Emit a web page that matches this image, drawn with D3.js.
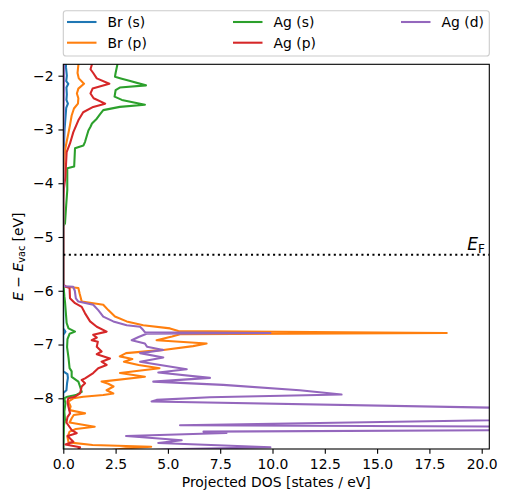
<!DOCTYPE html>
<html><head><meta charset="utf-8">
<script src="https://cdn.jsdelivr.net/npm/d3@7"></script>
<style>
body{margin:0;background:#fff;}
svg{display:block;font-family:"DejaVu Sans",sans-serif;}
</style>
</head><body>
<svg id="chart" width="507" height="502"></svg>
<script>
// ---------- data (energy in eV, projected DOS in states/eV) ----------
const seriesNames  = ["Br (s)", "Br (p)", "Ag (s)", "Ag (p)", "Ag (d)"];
const seriesColors = ["#1f77b4", "#ff7f0e", "#2ca02c", "#d62728", "#9467bd"];

const brS_E = [-1.70,-1.85,-2.00,-2.10,-2.15,-2.22,-2.35,-2.45,-2.52,-2.60,-2.80,-3.00,-3.30,-3.60,-6.70,-6.76,-6.82,-7.50,-7.55,-7.62,-7.72,-7.85,-7.90,-9.00];
const brS_D = [0.12,0.13,0.17,0.14,0.24,0.15,0.17,0.15,0.22,0.14,0.10,0.06,0.03,0.00,0.00,0.10,0.00,0.00,0.20,0.22,0.18,0.15,0.00,0.00];

const brP_E = [-1.70,-1.80,-1.95,-2.05,-2.15,-2.24,-2.33,-2.42,-2.52,-2.61,-2.74,-2.92,-3.08,-3.23,-3.39,-3.70,-4.00,-5.88,-5.92,-5.95,-6.05,-6.20,-6.26,-6.36,-6.48,-6.57,-6.64,-6.70,-6.75,-6.785,-6.81,-6.85,-6.92,-6.98,-7.03,-7.10,-7.16,-7.22,-7.27,-7.32,-7.38,-7.44,-7.53,-7.60,-7.69,-7.73,-7.78,-7.85,-7.91,-7.94,-7.97,-8.00,-8.06,-8.15,-8.22,-8.28,-8.31,-8.37,-8.45,-8.53,-8.57,-8.62,-8.72,-8.82,-8.87,-8.90,-8.93,-9.00];
const brP_D = [0.70,0.72,0.68,0.74,0.99,0.72,0.65,0.72,0.70,0.51,0.40,0.32,0.24,0.16,0.08,0.02,0.00,0.00,0.05,0.72,0.78,0.88,1.91,2.15,2.47,3.03,3.82,5.10,5.50,18.33,5.58,5.20,4.46,6.85,6.20,4.78,3.00,2.70,3.30,2.90,3.60,4.60,2.71,3.90,1.83,2.15,2.40,2.07,2.39,1.91,0.96,0.48,0.24,0.35,0.30,1.04,0.50,0.40,0.30,1.50,0.60,0.30,0.20,0.25,1.40,4.20,3.00,1.50];

const agS_E = [-1.70,-1.80,-1.95,-2.02,-2.05,-2.10,-2.18,-2.22,-2.27,-2.39,-2.45,-2.54,-2.58,-2.64,-2.72,-2.80,-2.89,-2.95,-3.02,-3.15,-3.23,-3.30,-3.35,-3.69,-3.72,-4.13,-4.40,-4.75,-4.80,-5.90,-5.95,-6.10,-6.20,-6.50,-6.60,-6.70,-6.76,-6.80,-6.90,-7.05,-7.25,-7.44,-7.50,-7.60,-7.69,-7.78,-7.88,-7.94,-7.97,-8.00,-8.10,-8.25,-8.40,-8.50,-9.00];
const agS_D = [2.60,2.58,2.50,2.47,2.75,3.20,3.95,2.70,2.50,2.45,2.80,3.90,2.70,1.91,1.75,1.60,1.37,1.30,1.20,1.10,1.04,0.96,0.56,0.52,0.19,0.19,0.14,0.08,0.00,0.00,0.02,0.05,0.08,0.14,0.16,0.25,0.56,0.30,0.20,0.18,0.25,0.30,0.40,0.40,0.72,0.80,0.88,0.60,0.20,0.05,0.10,0.05,0.08,0.03,0.00];

const agP_E = [-1.70,-1.80,-1.88,-1.95,-2.05,-2.15,-2.24,-2.33,-2.42,-2.52,-2.58,-2.68,-2.83,-3.05,-3.26,-3.42,-3.88,-4.10,-4.30,-5.88,-5.92,-5.95,-6.14,-6.23,-6.30,-6.42,-6.57,-6.67,-6.76,-6.82,-6.87,-6.92,-6.95,-7.04,-7.13,-7.18,-7.26,-7.32,-7.38,-7.44,-7.53,-7.63,-7.66,-7.72,-7.78,-7.91,-7.97,-8.00,-8.06,-8.15,-8.28,-8.35,-8.45,-8.59,-8.65,-8.70,-8.81,-8.86,-8.91,-9.00];
const agP_D = [1.38,1.36,1.30,1.43,1.60,2.20,1.40,1.30,1.45,2.00,1.43,0.95,0.72,0.48,0.32,0.16,0.10,0.03,0.00,0.00,0.10,0.30,0.32,0.56,0.88,1.04,1.28,1.60,2.07,1.43,1.60,1.36,1.65,1.60,1.83,1.60,2.23,1.83,2.07,1.67,1.43,1.04,0.88,1.04,0.88,0.80,0.56,0.24,0.20,0.24,0.32,0.20,0.15,0.40,0.64,0.20,0.48,0.10,0.80,0.60];

const agD_E = [-1.70,-2.20,-2.60,-3.00,-3.50,-5.88,-5.915,-5.925,-6.00,-6.14,-6.20,-6.26,-6.36,-6.48,-6.57,-6.64,-6.67,-6.73,-6.77,-6.785,-6.80,-6.86,-6.92,-6.98,-7.04,-7.10,-7.16,-7.24,-7.32,-7.46,-7.52,-7.62,-7.69,-7.75,-7.85,-7.93,-7.98,-8.03,-8.06,-8.22,-8.30,-8.36,-8.50,-8.55,-8.57,-8.62,-8.645,-8.70,-8.78,-8.83,-8.91,-8.95,-9.00];
const agD_D = [0.03,0.03,0.02,0.01,0.00,0.00,0.05,0.47,0.55,0.60,0.72,1.43,1.67,1.91,2.39,3.03,3.67,3.82,3.90,9.90,3.98,3.60,3.27,3.90,4.00,4.78,3.67,4.78,3.67,5.90,4.54,7.01,4.30,7.64,11.30,13.30,7.00,4.46,4.22,27.0,35.0,28.0,5.58,35.0,35.0,6.70,7.80,3.00,5.66,4.54,9.90,5.00,2.00];

const seriesE = [brS_E, brP_E, agS_E, agP_E, agD_E];
const seriesD = [brS_D, brP_D, agS_D, agP_D, agD_D];

const xTicks = [0, 2.5, 5, 7.5, 10, 12.5, 15, 17.5, 20];
const yTicks = [-8, -7, -6, -5, -4, -3, -2];
const fermiLevel = -5.33;
const xDomain = [0, 20.363];
const yDomain = [-8.943, -1.788];

// ---------- layout ----------
const L = 63.3, R = 489.3, T = 64.3, B = 449;
const fs = 13.9;
const svg = d3.select("#chart");
const x = d3.scaleLinear().domain(xDomain).range([L, R]);
const y = d3.scaleLinear().domain(yDomain).range([B, T]);

svg.append("defs").append("clipPath").attr("id", "clip")
  .append("rect").attr("x", L).attr("y", T).attr("width", R - L).attr("height", B - T);

const plot = svg.append("g").attr("clip-path", "url(#clip)");

const line = d3.line().x(d => x(d[1])).y(d => y(d[0]));
seriesNames.forEach((n, i) => {
  const pts = seriesE[i].map((e, k) => [e, seriesD[i][k]]);
  plot.append("path").attr("d", line(pts))
    .attr("fill", "none").attr("stroke", seriesColors[i])
    .attr("stroke-width", 2.08).attr("stroke-linejoin", "round");
});

// Fermi level
plot.append("line").attr("x1", L).attr("x2", R)
  .attr("y1", y(fermiLevel)).attr("y2", y(fermiLevel))
  .attr("stroke", "#000").attr("stroke-width", 2.08)
  .attr("stroke-dasharray", "2.08,3.44");

const ef = svg.append("text").attr("x", 485).attr("y", y(fermiLevel) - 4.5)
  .attr("text-anchor", "end").attr("font-size", 17).attr("fill", "#000");
ef.append("tspan").attr("font-style", "italic").text("E");
ef.append("tspan").attr("font-size", 12).attr("dy", 3).text("F");

// axes
const xAxis = d3.axisBottom(x).tickValues(xTicks).tickFormat(d3.format(".1f"))
  .tickSize(4.86).tickPadding(4.86);
const yAxis = d3.axisLeft(y).tickValues(yTicks).tickFormat(d3.format("d"))
  .tickSize(4.86).tickPadding(4.86);

const gx = svg.append("g").attr("transform", `translate(0,${B})`).call(xAxis);
const gy = svg.append("g").attr("transform", `translate(${L},0)`).call(yAxis);
[gx, gy].forEach(g => {
  g.select(".domain").remove();
  g.selectAll("line").attr("stroke", "#000").attr("stroke-width", 1.1);
  g.selectAll("text").attr("font-size", fs).attr("fill", "#000")
    .attr("font-family", "DejaVu Sans");
});

svg.append("rect").attr("x", L).attr("y", T).attr("width", R - L).attr("height", B - T)
  .attr("fill", "none").attr("stroke", "#000").attr("stroke-width", 1.1);

// axis labels
svg.append("text").attr("x", (L + R) / 2).attr("y", 486.5).attr("text-anchor", "middle")
  .attr("font-size", fs).attr("fill", "#000").text("Projected DOS [states / eV]");

const yl = svg.append("text")
  .attr("transform", `translate(22.5,${(T + B) / 2}) rotate(-90)`)
  .attr("text-anchor", "middle").attr("font-size", fs).attr("fill", "#000");
yl.append("tspan").attr("font-style", "italic").text("E");
yl.append("tspan").text(" \u2212 ");
yl.append("tspan").attr("font-style", "italic").text("E");
yl.append("tspan").attr("font-size", 9.7).attr("dy", 2.5).text("vac");
yl.append("tspan").attr("dy", -2.5).text(" [eV]");

// legend
const lg = svg.append("g");
lg.append("rect").attr("x", L).attr("y", 10.7).attr("width", R - L).attr("height", 45.3)
  .attr("rx", 2.8).attr("fill", "#fff").attr("fill-opacity", 0.8)
  .attr("stroke", "#cccccc").attr("stroke-width", 1.1);
const colX = [67, 233, 401];
const rowY = [22, 42.7];
const legendOrder = [[0, 0, 0], [1, 0, 1], [2, 1, 0], [3, 1, 1], [4, 2, 0]];
legendOrder.forEach(([i, c, r]) => {
  lg.append("line").attr("x1", colX[c]).attr("x2", colX[c] + 29.5)
    .attr("y1", rowY[r]).attr("y2", rowY[r])
    .attr("stroke", seriesColors[i]).attr("stroke-width", 2.08);
  lg.append("text").attr("x", colX[c] + 40.5).attr("y", rowY[r]).attr("dy", "0.36em")
    .attr("font-size", fs).attr("fill", "#000").text(seriesNames[i]);
});
</script>
</body></html>
